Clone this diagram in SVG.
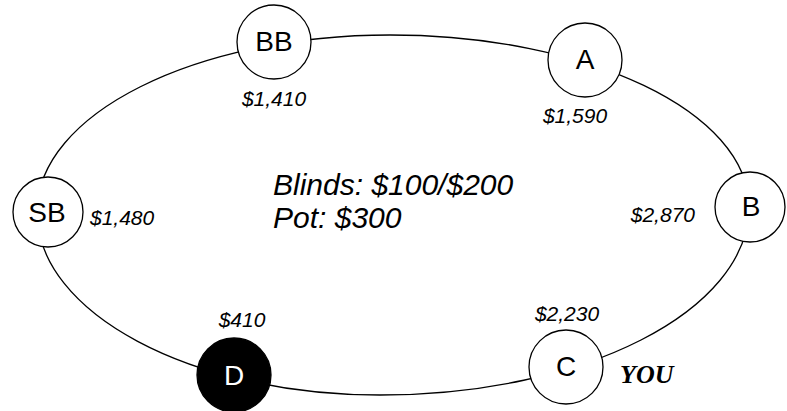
<svg xmlns="http://www.w3.org/2000/svg" width="787" height="411" viewBox="0 0 787 411">
<style>
.ring{fill:none;stroke:#000;stroke-width:1.3}
.node{fill:#fff;stroke:#000;stroke-width:1.3}
.dark{fill:#000;stroke:#000;stroke-width:1.3}
.lbl{font-family:"Liberation Sans",Arial,sans-serif;font-size:28px;fill:#000;text-anchor:middle}
.amt{font-family:"Liberation Sans",Arial,sans-serif;font-size:21px;font-style:italic;fill:#000}
.info{font-family:"Liberation Sans",Arial,sans-serif;font-size:30px;font-style:italic;fill:#000}
.you{font-family:"Liberation Serif","Times New Roman",serif;font-size:26px;font-style:italic;font-weight:bold;fill:#000}
</style>
<rect width="787" height="411" fill="#fff"/>
<g id="connectors">
<path class="ring" d="M37,212 C37,114 195,35 390,35 C588,35 749,112 749,207 C749,311 584,395 380,395 C191,395 37,313 37,212 Z"/>
</g>
<g id="node-BB">
<circle class="node" cx="274" cy="42" r="37"/>
<text class="lbl" x="274" y="51">BB</text>
<text class="amt" x="274" y="106" text-anchor="middle">$1,410</text>
</g>
<g id="node-A">
<circle class="node" cx="585" cy="60" r="37"/>
<text class="lbl" x="585" y="69">A</text>
<text class="amt" x="575" y="123" text-anchor="middle">$1,590</text>
</g>
<g id="node-SB">
<circle class="node" cx="48" cy="212" r="35"/>
<text class="lbl" x="47" y="222">SB</text>
<text class="amt" x="90" y="225">$1,480</text>
</g>
<g id="node-B">
<circle class="node" cx="750" cy="207" r="35"/>
<text class="lbl" x="751" y="216">B</text>
<text class="amt" x="695" y="222" text-anchor="end">$2,870</text>
</g>
<g id="node-D">
<circle class="dark" cx="234" cy="375" r="37"/>
<text class="lbl" x="234" y="385" fill="#fff" style="fill:#fff">D</text>
<text class="amt" x="242" y="327" text-anchor="middle">$410</text>
</g>
<g id="node-C">
<circle class="node" cx="566" cy="367" r="37"/>
<text class="lbl" x="566" y="376">C</text>
<text class="amt" x="567" y="321" text-anchor="middle">$2,230</text>
<text class="you" x="620" y="383">YOU</text>
</g>
<g id="info">
<text class="info" x="273" y="195">Blinds: $100/$200</text>
<text class="info" x="273" y="228">Pot: $300</text>
</g>
</svg>
